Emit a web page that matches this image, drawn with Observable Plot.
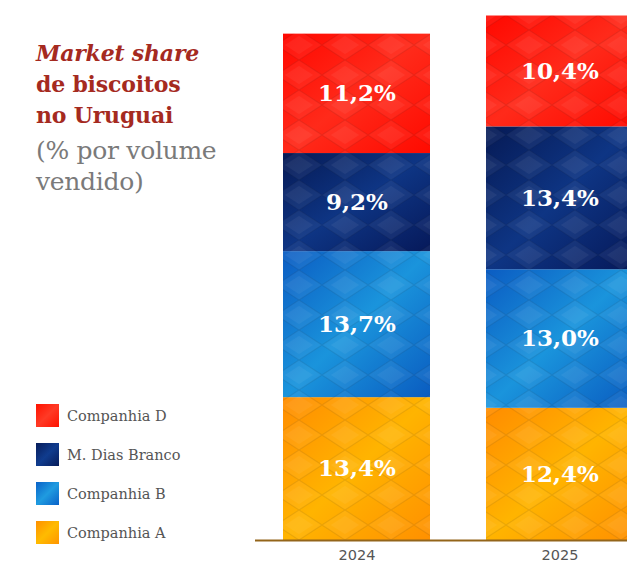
<!DOCTYPE html>
<html>
<head>
<meta charset="utf-8">
<script src="https://cdn.jsdelivr.net/npm/d3@7"></script>
<script src="https://cdn.jsdelivr.net/npm/@observablehq/plot@0.6"></script>
<style>
  html, body { margin: 0; padding: 0; background: #fff; }
  body { width: 627px; height: 565px; overflow: hidden; position: relative; }
  #chart { position: absolute; left: 0; top: 0; }
  #title { position: absolute; left: 36px; top: 38px; font-family: "DejaVu Serif", serif; }
  #title .t { color: #a52a1f; font-weight: bold; font-size: 22px; line-height: 31px; letter-spacing: -0.2px; }
  #title .t i { font-style: italic; }
  #title .s { color: #7a7a7a; font-size: 25px; line-height: 31px; font-weight: normal; letter-spacing: -0.3px; }
  #title .s1 { margin-top: 4px; }
  #legend { position: absolute; left: 36px; top: 404px; font-family: "DejaVu Serif", serif; font-size: 14.5px; color: #555; }
  .li { display: flex; align-items: center; height: 23px; margin-bottom: 16px; }
  .sw { width: 23px; height: 23px; margin-right: 8px; }
</style>
</head>
<body>
<div id="chart"></div>
<div id="title">
  <div class="t"><i>Market share</i></div>
  <div class="t">de biscoitos</div>
  <div class="t">no Uruguai</div>
  <div class="s s1">(% por volume</div>
  <div class="s">vendido)</div>
</div>
<div id="legend"></div>
<script>
const years = ["2024", "2025"];
const companies = ["Companhia A", "Companhia B", "M. Dias Branco", "Companhia D"];
const share2024 = [13.4, 13.7, 9.2, 11.2];
const share2025 = [12.4, 13.0, 13.4, 10.4];
const gradIds = ["gA", "gB", "gM", "gD"];
const swatchCss = [
  "linear-gradient(135deg,#ff9000,#ffbb00,#ff9500)",
  "linear-gradient(135deg,#0a62c8,#1f9be0,#0a62c8)",
  "linear-gradient(135deg,#071c5a,#103c8e,#071c5a)",
  "linear-gradient(135deg,#ff1200,#ff3a25,#ff1200)"
];

const fmt = v => v.toFixed(1).replace(".", ",") + "%";

const table = [];
[share2024, share2025].forEach((vals, yi) => {
  let cum = 0;
  vals.forEach((v, ci) => {
    table.push({year: years[yi], company: companies[ci], value: v, y1: cum, y2: cum + v, mid: cum + v / 2, label: fmt(v)});
    cum += v;
  });
});

const chart = Plot.plot({
  width: 627,
  height: 565,
  marginLeft: 255,
  marginRight: 0,
  marginTop: 0,
  marginBottom: 25,
  x: {domain: years, range: [255, 661], paddingInner: 0.276, paddingOuter: 0.138, label: null},
  y: {domain: [0, 50], range: [540, 7], axis: null},
  color: {domain: companies, range: gradIds.map(id => `url(#${id})`)},
  style: {overflow: "visible", background: "transparent"},
  marks: [
    Plot.barY(table, {x: "year", y1: "y1", y2: "y2", fill: "company"}),
    Plot.barY(table, {x: "year", y1: "y1", y2: "y2", fill: "url(#tex)"}),
    Plot.text(table, {x: "year", y: "mid", text: "label", fill: "white", fontSize: 23, fontWeight: "bold", fontFamily: "DejaVu Serif", letterSpacing: "0.6px"}),
    Plot.ruleY([0], {stroke: "#93651a", strokeWidth: 2.2}),
    Plot.axisX({tickSize: 0, tickPadding: 9, fontSize: 14.5, fontFamily: "DejaVu Sans", color: "#555", label: null})
  ]
});
d3.select(chart).insert("defs", ":first-child").html(`
  <linearGradient id="gA" x1="0" y1="0" x2="1" y2="1">
    <stop offset="0" stop-color="#ff8c00"/><stop offset="0.5" stop-color="#ffb400"/><stop offset="1" stop-color="#ff9000"/>
  </linearGradient>
  <linearGradient id="gB" x1="0" y1="0" x2="1" y2="1">
    <stop offset="0" stop-color="#0b5cc2"/><stop offset="0.5" stop-color="#1a94dc"/><stop offset="1" stop-color="#0a5cc0"/>
  </linearGradient>
  <linearGradient id="gM" x1="0" y1="0" x2="1" y2="1">
    <stop offset="0" stop-color="#061a55"/><stop offset="0.5" stop-color="#0e3584"/><stop offset="1" stop-color="#06195a"/>
  </linearGradient>
  <linearGradient id="gD" x1="0" y1="0" x2="1" y2="1">
    <stop offset="0" stop-color="#ff0800"/><stop offset="0.5" stop-color="#ff2a1a"/><stop offset="1" stop-color="#ff0a00"/>
  </linearGradient>
  <pattern id="tex" patternUnits="userSpaceOnUse" width="46" height="30">
    <path d="M0 15 L23 0 L46 15 L23 30 Z" fill="rgba(255,255,255,0.05)" stroke="rgba(0,0,0,0.08)" stroke-width="1.1"/>
    <path d="M23 6 L37 15 L23 24 L9 15 Z" fill="rgba(255,255,255,0.05)" stroke="none"/>
  </pattern>
`);
document.getElementById("chart").appendChild(chart);

const legend = document.getElementById("legend");
[3, 2, 1, 0].forEach(i => {
  const row = document.createElement("div");
  row.className = "li";
  const sw = document.createElement("div");
  sw.className = "sw";
  sw.style.background = swatchCss[i];
  const lab = document.createElement("span");
  lab.textContent = companies[i];
  row.appendChild(sw);
  row.appendChild(lab);
  legend.appendChild(row);
});
</script>
</body>
</html>
